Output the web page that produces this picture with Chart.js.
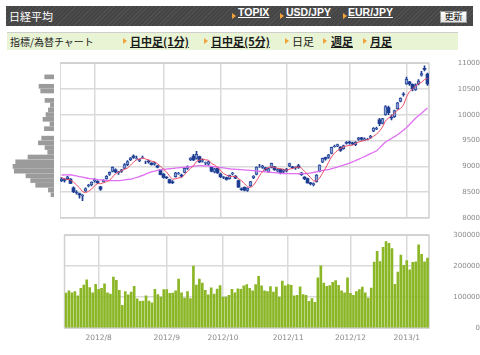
<!DOCTYPE html>
<html>
<head>
<meta charset="utf-8">
<script src="https://cdn.jsdelivr.net/npm/chart.js@4.4.1/dist/chart.umd.min.js"></script>
<style>
  body { margin: 0; width: 480px; height: 355px; background: #fff; position: relative; overflow: hidden;
         font-family: "Noto Sans CJK JP", "DejaVu Sans", sans-serif; }
  .head { position: absolute; left: 6px; top: 6px; width: 467px; height: 20px;
          background: repeating-linear-gradient(-45deg, #505050 0 1px, #454545 1px 3px); }
  .sub { position: absolute; left: 7px; top: 32px; width: 451px; height: 17px;
         background: #e8f4d4; border-top: 1px solid #cfcfcf; }
  .t { position: absolute; white-space: nowrap; }
  .arrow { position: absolute; width: 0; height: 0; border-left: 4px solid #f2a23a;
           border-top: 3px solid transparent; border-bottom: 3px solid transparent; }
  .hl { top: 6px; line-height: 20px; color: #fff; font: bold 10.5px "Liberation Sans", sans-serif; text-decoration: underline; }
  .sl { top: 33px; line-height: 17px; color: #1a1a1a; font-size: 11px; font-weight: bold; text-decoration: underline; }
  .btn { position: absolute; left: 440px; top: 11px; width: 25px; height: 10px; border: 1px solid #9a9a9a;
         background: linear-gradient(#ffffff, #e4e4e4); font-size: 9px; line-height: 10px; text-align: center; color: #000; }
  canvas { position: absolute; }
</style>
</head>
<body>
<div class="head"></div>
<span class="t" style="left:9px;top:6px;line-height:20px;color:#fff;font-size:11px;">日経平均</span>
<span class="arrow" style="left:232px;top:13px"></span><span class="t hl" style="left:238px">TOPIX</span>
<span class="arrow" style="left:280px;top:13px"></span><span class="t hl" style="left:286px">USD/JPY</span>
<span class="arrow" style="left:343px;top:13px"></span><span class="t hl" style="left:348px">EUR/JPY</span>
<div class="btn">更新</div>

<div class="sub"></div>
<span class="t" style="left:10px;top:33px;line-height:17px;color:#222;font-size:10px;">指標/為替チャート</span>
<span class="arrow" style="left:123px;top:38px"></span><span class="t sl" style="left:130px">日中足(1分)</span>
<span class="arrow" style="left:204px;top:38px"></span><span class="t sl" style="left:211px">日中足(5分)</span>
<span class="arrow" style="left:285px;top:38px"></span><span class="t sl" style="left:292px;font-weight:normal;text-decoration:none">日足</span>
<span class="arrow" style="left:323px;top:38px"></span><span class="t sl" style="left:331px">週足</span>
<span class="arrow" style="left:363px;top:38px"></span><span class="t sl" style="left:370px">月足</span>

<canvas id="vbp" width="60" height="177" style="left:0;top:52px"></canvas>
<canvas id="price" width="420" height="177" style="left:60px;top:52px"></canvas>
<canvas id="volume" width="420" height="131" style="left:60px;top:224px"></canvas>

<script>
// trading days 2012/7/17 - 2013/1/16
const dates = [
  '7/17','7/18','7/19','7/20','7/23','7/24','7/25','7/26','7/27','7/30','7/31',
  '8/1','8/2','8/3','8/6','8/7','8/8','8/9','8/10','8/13','8/14','8/15','8/16','8/17','8/20','8/21','8/22','8/23','8/24','8/27','8/28','8/29','8/30','8/31',
  '9/3','9/4','9/5','9/6','9/7','9/10','9/11','9/12','9/13','9/14','9/18','9/19','9/20','9/21','9/24','9/25','9/26','9/27','9/28',
  '10/1','10/2','10/3','10/4','10/5','10/9','10/10','10/11','10/12','10/15','10/16','10/17','10/18','10/19','10/22','10/23','10/24','10/25','10/26','10/29','10/30','10/31',
  '11/1','11/2','11/5','11/6','11/7','11/8','11/9','11/12','11/13','11/14','11/15','11/16','11/19','11/20','11/21','11/22','11/26','11/27','11/28','11/29','11/30',
  '12/3','12/4','12/5','12/6','12/7','12/10','12/11','12/12','12/13','12/14','12/17','12/18','12/19','12/20','12/21','12/25','12/26','12/27','12/28',
  '1/4','1/7','1/8','1/9','1/10','1/11','1/15','1/16'
];

const openP = [
  8720,8740,8760,8750,8580,8490,8470,8420,8520,8620,8640,
  8720,8710,8600,8700,8760,8840,8900,8930,8870,8900,8960,9030,9130,9200,9150,9110,9170,9070,9100,9060,9040,9010,8930,
  8850,8790,8740,8700,8800,8860,8830,8880,8960,9130,9200,9150,9190,9100,9060,9040,8980,8890,8960,
  8850,8790,8780,8760,8850,8810,8720,8560,8590,8530,8620,8780,8840,9000,8980,8970,8890,8980,8990,8910,8940,8900,
  8910,9000,8990,8970,9010,8870,8790,8760,8680,8640,8700,8900,9080,9170,9170,9250,9380,9390,9370,9340,9460,
  9470,9450,9420,9520,9550,9510,9520,9560,9680,9720,9900,9830,10000,10140,9950,9960,10120,10260,10400,
  10600,10640,10590,10480,10600,10770,10900,10790
];
const highP = [
  8780,8760,8810,8760,8600,8530,8480,8450,8580,8650,8700,
  8760,8720,8610,8740,8820,8890,8990,8950,8900,8940,9050,9110,9170,9220,9200,9140,9200,9100,9120,9070,9080,9020,8940,
  8860,8800,8750,8720,8880,8880,8850,8970,9010,9170,9230,9290,9200,9140,9080,9100,8990,8960,8970,
  8870,8800,8790,8830,8880,8820,8730,8580,8600,8580,8710,8820,8990,9040,9020,8980,8970,9060,9000,8950,8950,8940,
  8960,9060,9000,8990,9040,8880,8800,8770,8690,8680,8840,9030,9160,9180,9230,9370,9410,9430,9380,9410,9480,
  9490,9470,9480,9560,9560,9550,9540,9600,9750,9760,9930,9930,10180,10170,10000,10090,10240,10330,10430,
  10730,10650,10600,10600,10680,10840,10950,10810
];
const lowP = [
  8700,8690,8740,8660,8490,8460,8380,8330,8510,8600,8620,
  8690,8660,8530,8690,8750,8820,8890,8870,8840,8880,8950,9010,9110,9150,9140,9090,9150,9050,9060,9020,9020,8970,8830,
  8770,8760,8670,8660,8790,8840,8790,8870,8940,9110,9110,9140,9070,9080,9030,9020,8890,8870,8860,
  8780,8760,8730,8750,8830,8760,8590,8530,8520,8510,8610,8760,8830,8980,8960,8920,8880,8970,8920,8890,8850,8870,
  8890,8990,8960,8940,8960,8820,8740,8670,8640,8620,8690,8890,9070,9120,9150,9240,9370,9380,9290,9330,9430,
  9430,9420,9400,9500,9500,9500,9510,9540,9670,9710,9790,9820,9990,10000,9900,9950,10110,10250,10360,
  10590,10570,10460,10470,10580,10750,10850,10570
];
const closeP = [
  8755,8726,8795,8669,8508,8488,8443,8443,8566,8635,8695,
  8743,8680,8555,8726,8804,8881,8978,8891,8885,8929,9033,9092,9163,9171,9156,9131,9178,9070,9085,9033,9068,8983,8839,
  8783,8775,8679,8680,8871,8869,8807,8959,8995,9159,9123,9232,9086,9110,9070,9091,8906,8949,8870,
  8796,8786,8746,8824,8863,8769,8596,8546,8534,8577,8701,8806,8982,9002,9010,8930,8955,9055,8933,8929,8872,8928,
  8946,9051,8975,8976,8972,8837,8757,8676,8661,8664,8829,9024,9153,9142,9222,9366,9388,9423,9308,9400,9446,
  9458,9432,9468,9545,9527,9533,9525,9581,9742,9737,9828,9923,10160,10039,9940,10080,10230,10322,10395,
  10688,10599,10508,10578,10652,10801,10879,10600
];

// moving averages as drawn (5 day red, 25 day violet)
const ma5 = [
  8781,8755,8744,8734,8691,8637,8581,8510,8490,8515,
  8556,8616,8664,8662,8680,8702,8729,8789,8856,8888,
  8913,8943,8966,9020,9078,9123,9143,9160,9141,9124,
  9099,9087,9048,9002,8941,8890,8812,8751,8758,8775,
  8781,8837,8900,8958,9009,9094,9119,9142,9124,9118,
  9053,9025,8977,8922,8861,8829,8804,8803,8798,8760,
  8720,8662,8604,8591,8633,8720,8814,8900,8946,8976,
  8990,8977,8960,8949,8943,8922,8945,8954,8975,8984,
  8962,8903,8844,8781,8719,8717,8771,8866,8962,9074,
  9181,9254,9308,9341,9377,9393,9407,9409,9441,9470,
  9486,9501,9520,9542,9582,9624,9683,9762,9878,9937,
  9978,10028,10090,10122,10193,10343,10447,10502,10554,10605,
  10628,10684,10702
];
const ma25 = [
  8830,8832,8834,8835,8825,8812,8800,8788,8777,8765,
  8757,8750,8742,8735,8730,8726,8722,8721,8721,8722,
  8728,8736,8743,8750,8765,8782,8800,8822,8847,8873,
  8890,8905,8920,8933,8940,8946,8952,8958,8964,8970,
  8976,8982,8988,8994,9000,9006,9012,9010,9008,9005,
  8998,8991,8984,8976,8968,8960,8952,8945,8941,8937,
  8933,8929,8925,8921,8915,8909,8903,8897,8891,8886,
  8881,8876,8870,8865,8860,8859,8858,8857,8856,8855,
  8857,8858,8860,8870,8880,8893,8906,8920,8928,8935,
  8952,8968,8985,9004,9022,9041,9060,9085,9110,9135,
  9160,9188,9216,9244,9272,9300,9357,9413,9470,9505,
  9540,9575,9610,9657,9703,9750,9810,9870,9930,9980,
  10030,10080,10130
];

const volume = [
  113000,120000,114000,118000,104000,128000,139000,156000,131000,114000,
  141000,125000,128000,143000,114000,110000,165000,154000,122000,73000,
  118000,107000,116000,135000,94000,86000,87000,104000,87000,81000,
  125000,108000,100000,124000,124000,112000,113000,120000,158000,114000,
  97000,118000,95000,200000,139000,158000,145000,122000,107000,130000,
  110000,126000,137000,100000,100000,106000,125000,114000,127000,125000,
  136000,140000,128000,120000,140000,167000,136000,120000,118000,134000,
  116000,132000,100000,152000,136000,140000,138000,104000,106000,133000,
  108000,106000,86000,95000,83000,162000,201000,145000,135000,137000,
  148000,153000,138000,120000,114000,162000,112000,106000,118000,124000,
  132000,114000,97000,129000,213000,248000,215000,261000,279000,274000,
  257000,141000,181000,236000,203000,218000,188000,212000,214000,269000,
  238000,214000,226000
];

// volume by price (left histogram)
const priceBins = [10850,10650,10550,10350,10250,10150,10050,9950,9850,9750,9550,9450,
                   9350,9250,9150,9050,8950,8850,8750,8650,8550,8450,8350];
const binVolume = [930,1500,1330,900,360,560,800,1100,400,960,1230,1560,
                   900,630,2600,3830,4100,3970,2800,2330,1830,560,300];

const monthDates = ['8/1','9/3','10/1','11/1','12/3','1/4'];
const monthLabels = ['2012/8','2012/9','2012/10','2012/11','2012/12','2013/1'];

const gridColor = '#dadada';
const tickColor = '#8a8a8a';
const tickFont = { family: 'DejaVu Sans', size: 7 };

// box round the plot area
const framePlugin = {
    id: 'frame',
    beforeDatasetsDraw(chart) {
        const a = chart.chartArea, c = chart.ctx;
        c.save();
        c.strokeStyle = '#d0d0d0';
        c.lineWidth = 1.5;
        c.strokeRect(a.left, a.top, a.right - a.left, a.bottom - a.top);
        c.restore();
    }
};

const monthGrid = ctx => monthDates.includes(dates[ctx.index]) ? gridColor : 'rgba(0,0,0,0)';
const isUp = i => closeP[i] >= openP[i];
const plainNumber = v => String(v);

// candles + moving averages
new Chart(document.getElementById('price'), {
    type: 'bar',
    data: {
        labels: dates,
        datasets: [
            { type: 'line', data: ma5, borderColor: '#ec4b66', borderWidth: 1, pointRadius: 0, tension: 0.3, order: 0 },
            { type: 'line', data: ma25, borderColor: '#e070f2', borderWidth: 1.3, pointRadius: 0, tension: 0.3, order: 0 },
            {
                data: dates.map((d, i) => [openP[i], closeP[i]]),
                backgroundColor: ctx => isUp(ctx.dataIndex) ? '#8ea5d3' : '#1d3c92',
                borderColor: '#2a4a9e',
                borderWidth: ctx => isUp(ctx.dataIndex) ? 1 : 0,
                borderSkipped: false,
                barThickness: 3, grouped: false, order: 1
            },
            {
                data: dates.map((d, i) => [lowP[i], highP[i]]),
                backgroundColor: '#1d3c92',
                barThickness: 1, grouped: false, order: 2
            }
        ]
    },
    options: {
        responsive: false, animation: false,
        layout: { padding: { top: 6, bottom: 6, left: 0, right: 0 } },
        plugins: { legend: { display: false }, tooltip: { enabled: false } },
        scales: {
            x: {
                offset: true,
                grid: { offset: false, color: monthGrid, lineWidth: 1.5, drawTicks: false },
                border: { display: false },
                ticks: { display: false, autoSkip: false, maxRotation: 0 },
                afterFit: s => { s.height = 0; }
            },
            y: {
                position: 'right', min: 8000, max: 11000,
                grid: { color: gridColor, lineWidth: 1.5, drawTicks: false },
                border: { display: false },
                ticks: { stepSize: 500, color: tickColor, font: tickFont, padding: 7, crossAlign: 'far', callback: plainNumber },
                afterFit: s => { s.width = 51; }
            }
        }
    },
    plugins: [framePlugin]
});

// volume
new Chart(document.getElementById('volume'), {
    type: 'bar',
    data: {
        labels: dates,
        datasets: [{ data: volume, backgroundColor: '#8bb626', barThickness: 2 }]
    },
    options: {
        responsive: false, animation: false,
        layout: { padding: { top: 5, bottom: 0, left: 0, right: 0 } },
        plugins: { legend: { display: false }, tooltip: { enabled: false } },
        scales: {
            x: {
                offset: true,
                grid: { offset: false, color: monthGrid, lineWidth: 1.5, drawTicks: false },
                border: { display: false },
                ticks: {
                    autoSkip: false, maxRotation: 0, color: tickColor,
                    font: { family: 'DejaVu Sans', size: 7.5 }, padding: 6,
                    callback: (v, i) => {
                        const k = monthDates.indexOf(dates[i]);
                        return k >= 0 ? monthLabels[k] : '';
                    }
                },
                afterFit: s => { s.height = 27; }
            },
            y: {
                position: 'right', min: 0, max: 300000,
                grid: { color: gridColor, lineWidth: 1.5, drawTicks: false },
                border: { display: false },
                ticks: { stepSize: 100000, color: tickColor, font: tickFont, padding: 7, crossAlign: 'far', callback: plainNumber },
                afterFit: s => { s.width = 51; }
            }
        }
    },
    plugins: [framePlugin]
});

// volume-by-price histogram
new Chart(document.getElementById('vbp'), {
    type: 'bar',
    data: {
        datasets: [{
            data: priceBins.map((p, i) => ({ x: binVolume[i], y: p })),
            backgroundColor: '#9b9b9b',
            barThickness: 4
        }]
    },
    options: {
        indexAxis: 'y',
        responsive: false, animation: false,
        layout: { padding: { top: 6, bottom: 6, left: 0, right: 6 } },
        plugins: { legend: { display: false }, tooltip: { enabled: false } },
        scales: {
            y: { type: 'linear', min: 8000, max: 11000, display: false },
            x: { min: 0, max: 5400, reverse: true, display: false }
        }
    }
});
</script>
</body>
</html>
